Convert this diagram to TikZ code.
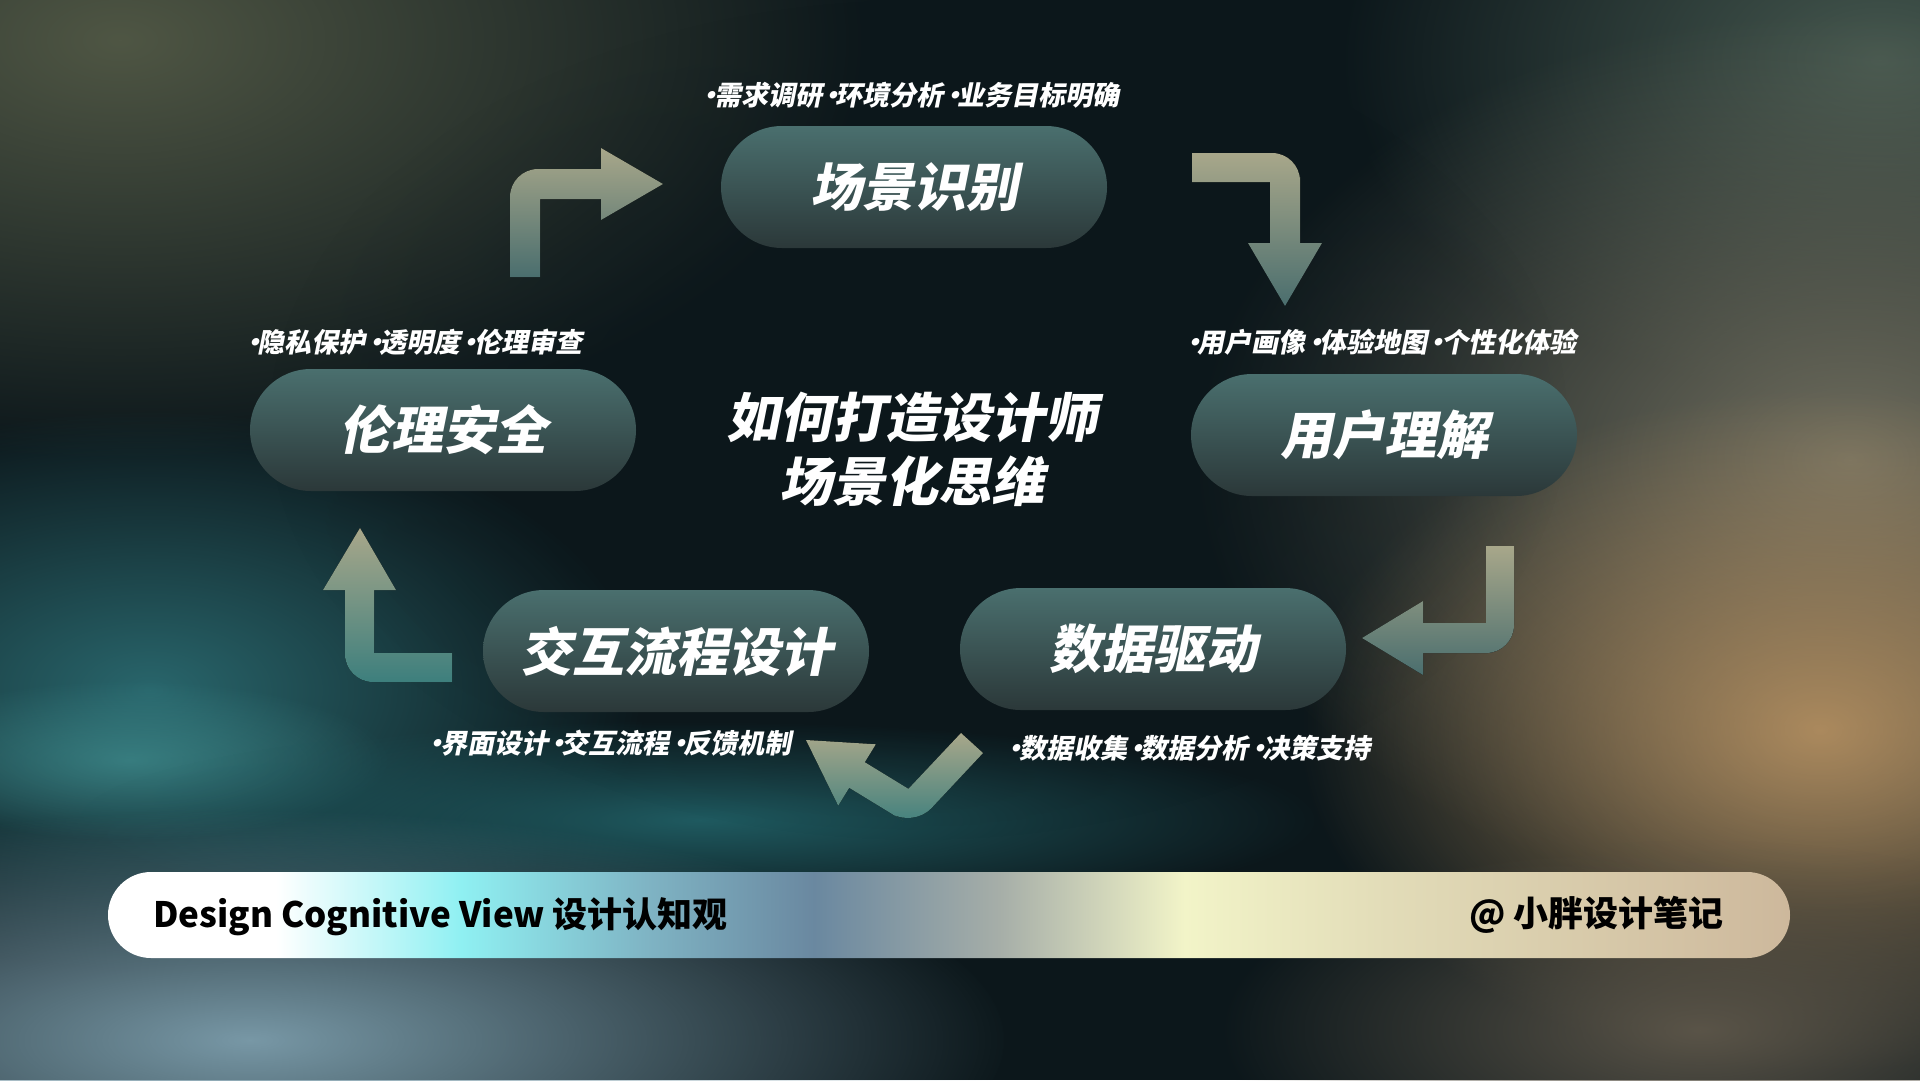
\documentclass[tikz,border=0pt]{standalone}
\usepackage{fontspec}
\newfontfamily\cjk{Noto Sans CJK SC}
\newfontfamily\cjkit{Noto Sans CJK SC}[FakeSlant=0.2]
\usetikzlibrary{fadings}
\tikzfading[name=glow, inner color=transparent!0, outer color=transparent!100]
\newcommand\md{\makebox[0.28em][c]{·}}
\definecolor{bgdark}{HTML}{0C171B}
\definecolor{gOlive}{HTML}{4F5644}
\definecolor{gTopRight}{HTML}{46584F}
\definecolor{gWarm}{HTML}{727060}
\definecolor{gOrange}{HTML}{B89262}
\definecolor{gTeal}{HTML}{29666C}
\definecolor{gCyan}{HTML}{4AA0A0}
\definecolor{gBand}{HTML}{1F5A60}
\definecolor{gBlue}{HTML}{7898A6}
\definecolor{gBrown}{HTML}{5A5448}
\definecolor{pilltop}{HTML}{4A6F6E}
\definecolor{pillbot}{HTML}{2B3839}
\definecolor{arrtop}{HTML}{A8A78A}
\definecolor{arrbot}{HTML}{4A6E6E}
\definecolor{arrbotteal}{HTML}{3D7F7D}
\definecolor{bn0}{HTML}{FFFFFF}
\definecolor{bn1}{HTML}{8FF0F2}
\definecolor{bn2}{HTML}{7FB4C4}
\definecolor{bn3}{HTML}{6A88A0}
\definecolor{bn4}{HTML}{A6AEA8}
\definecolor{bn5}{HTML}{F2F4C8}
\definecolor{bn6}{HTML}{E2DCB8}
\definecolor{bn7}{HTML}{CDB89C}
\pgfdeclarehorizontalshading{bannershade}{100bp}{color(0bp)=(bn0); color(25bp)=(bn0); color(30bp)=(bn0); color(35.5bp)=(bn1); color(41bp)=(bn2); color(46bp)=(bn3); color(51.5bp)=(bn4); color(57bp)=(bn5); color(63bp)=(bn6); color(75bp)=(bn7); color(100bp)=(bn7)}
\begin{document}
\begin{tikzpicture}[x=1pt,y=-1pt,
  pill/.style={rounded corners=61pt, minimum width=386pt, minimum height=122pt, inner sep=0pt,
    top color=pilltop, bottom color=pillbot, text=white,
    font=\cjkit\bfseries\fontsize{52}{60}\selectfont},
  lbl/.style={text=white, inner sep=0pt, font=\cjkit\bfseries\fontsize{27}{30}\selectfont},
  arrowshape/.style={top color=arrtop, bottom color=arrbot},
  bannertext/.style={text=black, inner sep=0pt, font=\cjk\bfseries\fontsize{35}{40}\selectfont}]
\useasboundingbox (0,0) rectangle (1920,1080);
% background
\fill[bgdark] (0,0) rectangle (1920,1080);
\fill[gOlive, path fading=glow] (120,40) ellipse [x radius=760, y radius=420];
\fill[gTopRight, path fading=glow] (1880,60) ellipse [x radius=540, y radius=340];
\fill[gWarm, path fading=glow] (1850,460) ellipse [x radius=660, y radius=450];
\fill[gOrange, path fading=glow, opacity=0.9] (1820,730) ellipse [x radius=520, y radius=340];
\fill[gTeal, path fading=glow] (150,690) ellipse [x radius=500, y radius=280];
\fill[gCyan, path fading=glow, opacity=0.55] (130,760) ellipse [x radius=260, y radius=80];
\fill[gBand, path fading=glow] (700,820) ellipse [x radius=620, y radius=100];
\fill[gBlue, path fading=glow] (250,1040) ellipse [x radius=760, y radius=230];
\fill[gBrown, path fading=glow] (1700,1030) ellipse [x radius=480, y radius=190];
\fill[bgdark, path fading=glow, opacity=0.7] (920,420) ellipse [x radius=650, y radius=420];

% arrows
\fill[arrowshape] (510,277) -- (510,220) [rounded corners=28pt] -- (510,169) -- (565,169) [sharp corners] -- (601,169) -- (601,148) -- (663,184) -- (601,220) -- (601,199) -- (540,199) -- (540,277) -- cycle;
\fill[arrowshape] (1192,153) -- (1245,153) [rounded corners=28pt] -- (1300,153) -- (1300,205) [sharp corners] -- (1300,243) -- (1322,243) -- (1285,306) -- (1248,243) -- (1270,243) -- (1270,182) -- (1192,182) -- cycle;
\fill[arrowshape] (1486,546) -- (1514,546) -- (1514,600) [rounded corners=28pt] -- (1514,653) -- (1460,653) [sharp corners] -- (1423,653) -- (1423,675) -- (1362,638) -- (1423,601) -- (1423,623) -- (1486,623) -- cycle;
\fill[top color=arrtop, bottom color=arrbotteal] (961,733) -- (983,753) -- (948.3,790.1) [rounded corners=26pt] -- (913.6,827.2) -- (881.4,807.5) [sharp corners] -- (849.2,787.8) -- (838.2,805.7) -- (806,740) -- (875.8,744.3) -- (864.8,762.2) -- (908.4,788.8) -- cycle;
\fill[top color=arrtop, bottom color=arrbotteal] (452,653) -- (452,682) -- (400,682) [rounded corners=28pt] -- (345,682) -- (345,630) [sharp corners] -- (345,590) -- (323,590) -- (360,528) -- (396,590) -- (374,590) -- (374,653) -- cycle;

% nodes
\node[pill] (scene) at (914,187) {场景识别};
\node[pill] (user) at (1384,435) {用户理解};
\node[pill] (ethic) at (443,430) {伦理安全};
\node[pill] (flow) at (676,651) {交互流程设计};
\node[pill] (data) at (1153,649) {数据驱动};

% labels
\node[lbl] (lscene) at (913,95) {\md 需求调研 \md 环境分析 \md 业务目标明确};
\node[lbl] (luser) at (1383,342) {\md 用户画像 \md 体验地图 \md 个性化体验};
\node[lbl] (lethic) at (416,342) {\md 隐私保护 \md 透明度 \md 伦理审查};
\node[lbl] (lflow) at (612,743) {\md 界面设计 \md 交互流程 \md 反馈机制};
\node[lbl] (ldata) at (1191,748) {\md 数据收集 \md 数据分析 \md 决策支持};

% title
\node[text=white, inner sep=0pt, align=center, font=\cjkit\bfseries\fontsize{53}{64}\selectfont] (title) at (912,449) {如何打造设计师\\场景化思维};

% banner
\shade[shading=bannershade, rounded corners=43pt] (108,872) rectangle (1790,958);
\node[bannertext, anchor=west] (bleft) at (153,917) {Design Cognitive View 设计认知观};
\node[bannertext, anchor=east] (bright) at (1724,915) {@ 小胖设计笔记};
\end{tikzpicture}
\end{document}
